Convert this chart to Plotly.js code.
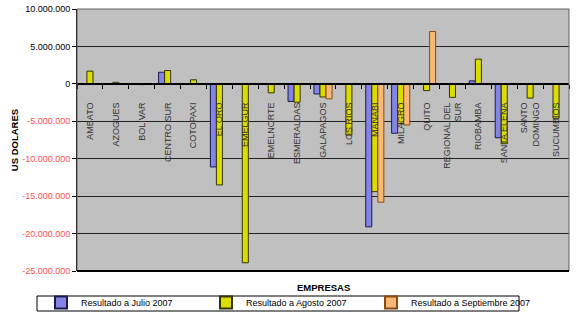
<!DOCTYPE html>
<html><head><meta charset="utf-8">
<script src="https://cdn.plot.ly/plotly-3.0.1.min.js"></script>
<style>html,body{margin:0;padding:0;background:#fff}#chart{width:579px;height:318px}</style>
</head><body><div id="chart"></div>
<script>
const empresas = ['AMBATO','AZOGUES','BOLÍVAR','CENTRO SUR','COTOPAXI','EL ORO','EMELGUR','EMELNORTE','ESMERALDAS','GALAPAGOS','LOS RIOS','MANABI','MILAGRO','QUITO','REGIONAL DEL<br>SUR','RIOBAMBA','SANTA ELENA','SANTO<br>DOMINGO','SUCUMBIOS'];
const julio2007 = [null,null,null,1550000,null,-11100000,null,null,-2350000,-1350000,null,-19100000,-6600000,null,null,400000,-7200000,null,null];
const agosto2007 = [1700000,200000,-100000,1780000,540000,-13500000,-23900000,-1200000,-2450000,-1750000,-6850000,-14400000,-5300000,-900000,-1800000,3300000,-8000000,-1900000,-4600000];
const septiembre2007 = [null,null,null,null,null,null,null,null,null,-2000000,null,-15800000,-5500000,7000000,null,null,null,null,null];
const serieNames = ['Resultado a Julio 2007','Resultado a Agosto 2007','Resultado a Septiembre 2007'];
const yTickVals = [10000000,5000000,0,-5000000,-10000000,-15000000,-20000000,-25000000];
const yTickText = ['10.000.000','5.000.000','0','-5.000.000','-10.000.000','-15.000.000','-20.000.000','-25.000.000'];

const colored = yTickText.map((t,i)=> yTickVals[i] < 0 ? '<span style="color:#ff4d4d">'+t+'</span>' : t);

const traces = [
  {type:'bar', name:serieNames[0], x:empresas, y:julio2007, marker:{color:'#8484e6', line:{color:'#1a1a4d', width:1}}},
  {type:'bar', name:serieNames[1], x:empresas, y:agosto2007, marker:{color:'#dcdc00', line:{color:'#333300', width:1}}},
  {type:'bar', name:serieNames[2], x:empresas, y:septiembre2007, marker:{color:'#f8b878', line:{color:'#8a4a10', width:1}}}
];

const layout = {
  width:579, height:318,
  margin:{l:77, r:10, t:9, b:47},
  paper_bgcolor:'#ffffff', plot_bgcolor:'#c0c0c0',
  font:{family:'Liberation Sans, Arial, sans-serif', size:9, color:'#000'},
  barmode:'group', bargap:0.3, bargroupgap:0,
  showlegend:true,
  legend:{orientation:'h', xref:'container', yref:'container', x:0.0708, xanchor:'left', y:0.094, yanchor:'top', font:{size:9}, entrywidth:120, itemwidth:30, bgcolor:'rgba(0,0,0,0)', borderwidth:0, tracegroupgap:0, itemsizing:'constant'},
  xaxis:{type:'category', anchor:'free', position:25/35, showline:true, linecolor:'#000', linewidth:2,
         ticks:'outside', tickson:'boundaries', ticklen:4, tickcolor:'#000', tickangle:-90,
         tickfont:{size:9, color:'#333'}, ticklabelstandoff:14, showgrid:false, zeroline:false,
         automargin:false, fixedrange:true},
  yaxis:{range:[-25000000,10000000], tickvals:yTickVals, ticktext:colored, showline:true, linecolor:'#000', linewidth:1,
         ticks:'outside', ticklen:4, tickcolor:'#000', showgrid:true, gridcolor:'#222', gridwidth:1,
         zeroline:true, zerolinecolor:'#000', zerolinewidth:2, tickfont:{size:9},
         title:{text:'<b>US DOLARES</b>', font:{size:9.5}, standoff:1}, automargin:false},
  annotations:[
    {xref:'paper', yref:'paper', x:0.5, y:-0.035, xanchor:'center', yanchor:'top', text:'<b>EMPRESAS</b>', showarrow:false, font:{size:9.5}}
  ],
  shapes:[
    {type:'rect', xref:'paper', yref:'paper', x0:0, x1:1, y0:0, y1:1, line:{color:'#606060', width:1}, layer:'above'},
    {type:'line', xref:'paper', yref:'paper', x0:0, x1:1, y0:0, y1:0, line:{color:'#000', width:2}, layer:'above'},
    {type:'rect', xref:'paper', yref:'paper', x0:-40/492, x1:442/492, y0:-25/262, y1:-40/262, line:{color:'#000', width:1}, fillcolor:'rgba(0,0,0,0)'}
  ]
};
Plotly.newPlot('chart', traces, layout, {displayModeBar:false, staticPlot:true});
</script></body></html>
